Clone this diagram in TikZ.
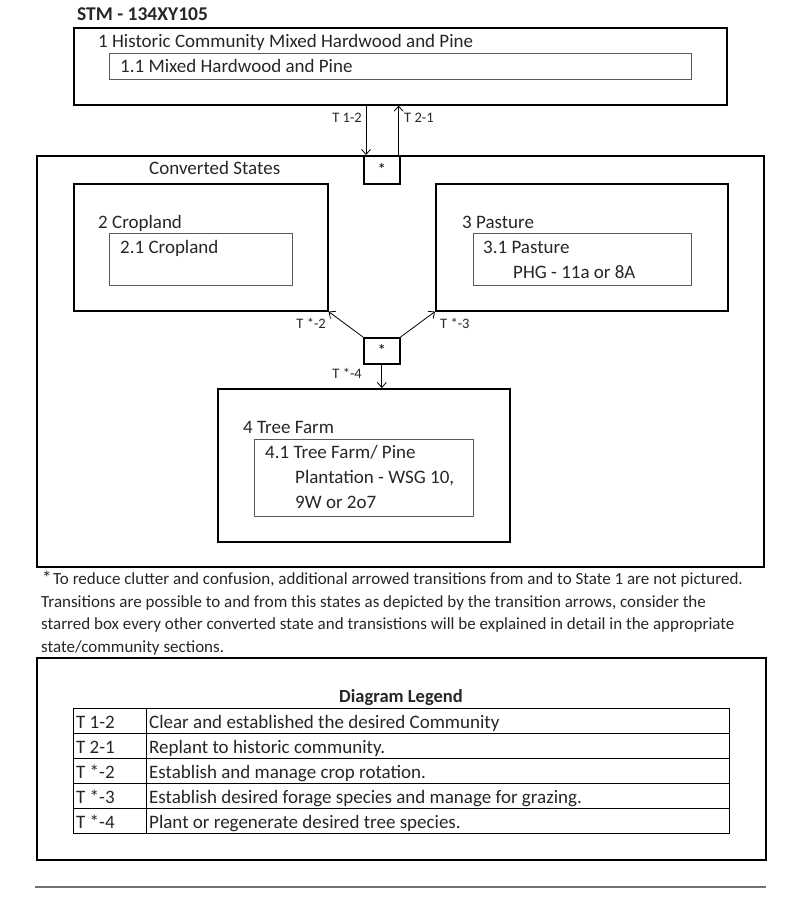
\documentclass[tikz,border=0pt]{standalone}
\usepackage{fontspec}
\setmainfont{Carlito}
\usetikzlibrary{positioning}
\usetikzlibrary{arrows.meta}

\begin{document}
\begin{tikzpicture}[x=1pt, y=-1pt,
    statebox/.style={draw=black, line width=1.6pt, anchor=north west, inner sep=0pt},
    commbox/.style={draw=black!65, line width=1.1pt, anchor=north west, inner sep=0pt},
    starbox/.style={draw=black, line width=1.6pt, anchor=north west, inner sep=0pt, minimum width=36pt, font=\fontsize{17}{18}\selectfont},
    lbl/.style={anchor=base west, inner sep=0pt, text=black!85, font=\fontsize{19}{22}\selectfont},
    tlbl/.style={inner sep=0pt, text=black!85, font=\fontsize{14.5}{16}\selectfont},
    note/.style={anchor=base west, inner sep=0pt, text=black!85, font=\fontsize{17}{20}\selectfont},
    trans/.style={-{Straight Barb[length=5pt,width=9pt]}, line width=0.8pt},
    keycell/.style={draw=black, line width=1pt, anchor=north west, minimum height=25pt, inner sep=0pt},
    ]
    \useasboundingbox (0,0) rectangle (800,912);

    \node [lbl, font=\bfseries\fontsize{19.5}{22}\selectfont] (stm) at (77,21) {STM - 134XY105};

    % state 1
    \node (hist) [statebox, minimum width=653pt, minimum height=77pt] at (73,27) {};
    \node (histlbl) [lbl] at (98,48) {1 Historic Community Mixed Hardwood and Pine};
    \node (hist11) [commbox, minimum width=582pt, minimum height=26pt] at (109,53) {};
    \node (hist11lbl) [lbl] at (120,73) {1.1 Mixed Hardwood and Pine};

    % converted states
    \node (conv) [statebox, minimum width=727pt, minimum height=411pt] at (36,155) {};
    \node (star1) [starbox, minimum height=28pt] at (363,155) {*};
    \node (convlbl) [lbl] at (149,175) {Converted States};

    \node (crop) [statebox, minimum width=254pt, minimum height=127pt] at (73,183) {};
    \node (croplbl) [lbl] at (98,228) {2 Cropland};
    \node (crop21) [commbox, minimum width=183pt, minimum height=52pt] at (109,233) {};
    \node (crop21lbl) [lbl] at (120,253) {2.1 Cropland};

    \node (past) [statebox, minimum width=292pt, minimum height=127pt] at (435,183) {};
    \node (pastlbl) [lbl] at (462,228) {3 Pasture};
    \node (past31) [commbox, minimum width=218pt, minimum height=52pt] at (473,233) {};
    \node (past31lbl) [lbl] at (483,253) {3.1 Pasture};
    \node (past31phg) [lbl] at (513,278) {PHG - 11a or 8A};

    \node (star2) [starbox, minimum height=26pt] at (363,337) {*};

    \node (tree) [statebox, minimum width=292pt, minimum height=153pt] at (217,388) {};
    \node (treelbl) [lbl] at (243,433) {4 Tree Farm};
    \node (tree41) [commbox, minimum width=219pt, minimum height=77pt] at (254,439) {};
    \node (tree41lbl) [lbl] at (265,458) {4.1 Tree Farm/ Pine};
    \node (tree41wsg) [lbl] at (295,483) {Plantation - WSG 10,};
    \node (tree41more) [lbl] at (295,508) {9W or 2o7};

    % transitions
    \draw [trans] ([xshift=3pt]star1.north west |- hist.south) -- ([xshift=3pt]star1.north west);
    \draw [trans] ([xshift=-2pt]star1.north east) -- ([xshift=-2pt]star1.north east |- hist.south);
    \draw [trans] (star2.north west) -- (crop.south east);
    \draw [trans] (star2.north east) -- (past.south west);
    \draw [trans] (star2.south) -- (star2.south |- tree.north);

    \node (t12) [tlbl, anchor=east] at (362,118) {T 1-2};
    \node (t21) [tlbl, anchor=west] at (404,118) {T 2-1};
    \node (ts2) [tlbl, anchor=east] at (326,323) {T *-2};
    \node (ts3) [tlbl, anchor=west] at (440,323) {T *-3};
    \node (ts4) [tlbl, anchor=east] at (362,373) {T *-4};

    % footnote
    \node (notestar) [lbl] at (42,584) {*};
    \node (note1) [note] at (53,584.5) {To reduce clutter and confusion, additional arrowed transitions from and to State 1 are not pictured.};
    \node (note2) [note] at (41,607) {Transitions are possible to and from this states as depicted by the transition arrows, consider the};
    \node (note3) [note] at (41,629.5) {starred box every other converted state and transistions will be explained in detail in the appropriate};
    \node (note4) [note] at (41,652) {state/community sections.};

    % legend
    \node (legend) [statebox, minimum width=729pt, minimum height=202pt] at (36,657) {};
    \node (legendlbl) [lbl, anchor=center, font=\bfseries\fontsize{18.5}{22}\selectfont] at (401,698) {Diagram Legend};

    \node (k12) [keycell, minimum width=73pt] at (73,708) {};
    \node (d12) [keycell, minimum width=583pt] at (146,708) {};
    \node (k21) [keycell, minimum width=73pt] at (73,733) {};
    \node (d21) [keycell, minimum width=583pt] at (146,733) {};
    \node (ks2) [keycell, minimum width=73pt] at (73,758) {};
    \node (ds2) [keycell, minimum width=583pt] at (146,758) {};
    \node (ks3) [keycell, minimum width=73pt] at (73,783) {};
    \node (ds3) [keycell, minimum width=583pt] at (146,783) {};
    \node (ks4) [keycell, minimum width=73pt] at (73,808) {};
    \node (ds4) [keycell, minimum width=583pt] at (146,808) {};

    \node (k12lbl) [lbl] at ([xshift=3pt, yshift=6pt]k12.south west) {T 1-2};
    \node (d12lbl) [lbl] at ([xshift=3pt, yshift=6pt]d12.south west) {Clear and established the desired Community};
    \node (k21lbl) [lbl] at ([xshift=3pt, yshift=6pt]k21.south west) {T 2-1};
    \node (d21lbl) [lbl] at ([xshift=3pt, yshift=6pt]d21.south west) {Replant to historic community.};
    \node (ks2lbl) [lbl] at ([xshift=3pt, yshift=6pt]ks2.south west) {T *-2};
    \node (ds2lbl) [lbl] at ([xshift=3pt, yshift=6pt]ds2.south west) {Establish and manage crop rotation.};
    \node (ks3lbl) [lbl] at ([xshift=3pt, yshift=6pt]ks3.south west) {T *-3};
    \node (ds3lbl) [lbl] at ([xshift=3pt, yshift=6pt]ds3.south west) {Establish desired forage species and manage for grazing.};
    \node (ks4lbl) [lbl] at ([xshift=3pt, yshift=6pt]ks4.south west) {T *-4};
    \node (ds4lbl) [lbl] at ([xshift=3pt, yshift=6pt]ds4.south west) {Plant or regenerate desired tree species.};

    \draw [black!55, line width=2pt] (35,887) -- (766,887);
\end{tikzpicture}
\end{document}
